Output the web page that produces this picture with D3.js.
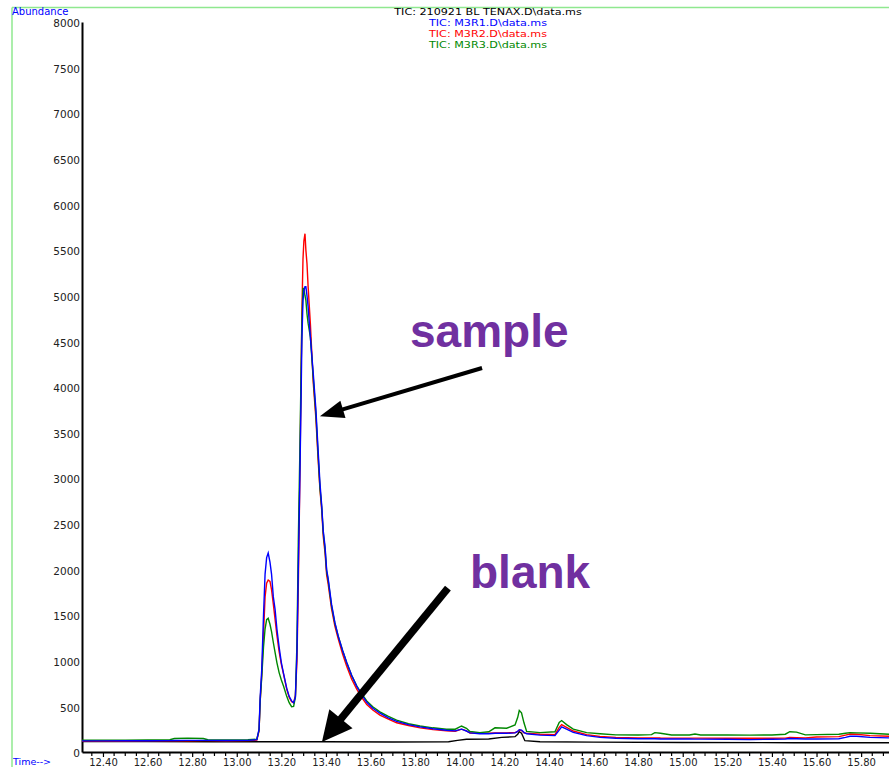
<!DOCTYPE html>
<html>
<head>
<meta charset="utf-8">
<script src="https://cdn.jsdelivr.net/npm/d3@7"></script>
<style>
  body { margin: 0; background: #fff; }
  svg { display: block; font-family: "DejaVu Sans", sans-serif; }
</style>
</head>
<body>
<svg id="chart" width="889" height="767"></svg>
<script>
// Retention time (min) shared by the three sample runs
const times = [
  12.306, 12.40, 12.50, 12.60, 12.70, 12.72, 12.78, 12.85, 12.87, 12.95, 13.05, 13.09,
  13.10, 13.105, 13.112, 13.12, 13.127, 13.134, 13.141, 13.149, 13.156, 13.164, 13.172, 13.18,
  13.19, 13.20, 13.21, 13.224, 13.235, 13.246, 13.255, 13.263, 13.27, 13.276, 13.283, 13.288,
  13.292, 13.297, 13.301, 13.306, 13.31, 13.315, 13.32, 13.33, 13.343, 13.355, 13.365, 13.373,
  13.381, 13.388, 13.396, 13.403, 13.41, 13.425, 13.44, 13.455, 13.475, 13.493, 13.515, 13.538,
  13.56, 13.583, 13.61, 13.642, 13.68, 13.717, 13.77, 13.822, 13.88, 13.94, 13.98, 14.008,
  14.03, 14.046, 14.09, 14.13, 14.158, 14.21, 14.248, 14.26, 14.267, 14.277, 14.288, 14.30,
  14.36, 14.427, 14.446, 14.457, 14.479, 14.509, 14.569, 14.629, 14.70, 14.80, 14.86, 14.875,
  14.90, 14.95, 15.03, 15.055, 15.08, 15.20, 15.30, 15.40, 15.46, 15.48, 15.51, 15.55,
  15.60, 15.70, 15.73, 15.75, 15.78, 15.84, 15.925
];

// TIC: M3R1.D\data.ms
const m3r1 = [
  122, 122, 123, 124, 125, 126, 127, 127, 127, 126, 127, 135,
  250, 600, 900, 1500, 1950, 2130, 2180, 2080, 1950, 1700, 1560, 1350,
  1150, 980, 860, 700, 610, 560, 540, 600, 1100, 2000, 3000, 3800,
  4500, 4950, 5050, 5100, 5100, 5000, 4880, 4550, 4150, 3750, 3300, 2950,
  2700, 2420, 2250, 2000, 1900, 1620, 1420, 1270, 1110, 980, 840, 720,
  630, 545, 480, 425, 375, 335, 300, 275, 255, 238, 232, 250,
  230, 210, 200, 200, 205, 205, 210, 225, 245, 240, 215, 200,
  185, 180, 240, 275, 250, 215, 180, 160, 150, 145, 145, 145,
  143, 142, 142, 141, 141, 140, 136, 140, 142, 148, 146, 142,
  143, 145, 160, 172, 172, 160, 155
];

// TIC: M3R2.D\data.ms
const m3r2 = [
  120, 120, 121, 122, 122, 123, 124, 125, 125, 124, 125, 130,
  230, 550, 850, 1300, 1700, 1850, 1885, 1870, 1780, 1620, 1450, 1280,
  1100, 960, 850, 690, 600, 550, 540, 620, 1000, 1800, 3000, 4000,
  4800, 5400, 5600, 5680, 5500, 5350, 5100, 4700, 4050, 3650, 3200, 2880,
  2650, 2360, 2180, 1940, 1840, 1570, 1380, 1240, 1070, 940, 800, 690,
  600, 520, 460, 405, 360, 320, 290, 265, 245, 232, 228, 250,
  232, 208, 205, 205, 208, 210, 212, 225, 240, 235, 210, 205,
  195, 190, 270, 300, 270, 230, 190, 170, 160, 155, 155, 155,
  153, 152, 152, 152, 152, 150, 150, 150, 152, 160, 158, 155,
  165, 168, 185, 197, 195, 180, 172
];

// TIC: M3R3.D\data.ms
const m3r3 = [
  128, 130, 130, 132, 135, 148, 152, 148, 134, 132, 134, 140,
  240, 560, 820, 1150, 1350, 1450, 1465, 1400, 1320, 1200, 1090, 980,
  870, 790, 720, 610, 540, 497, 500, 600, 1200, 2300, 3300, 4100,
  4700, 5080, 5080, 5000, 4950, 4800, 4700, 4550, 4100, 3700, 3250, 2900,
  2680, 2400, 2220, 1980, 1880, 1600, 1410, 1270, 1110, 980, 840, 725,
  640, 560, 495, 440, 390, 350, 310, 285, 265, 250, 250, 285,
  260, 225, 212, 222, 265, 260, 296, 380, 455, 430, 320, 225,
  212, 222, 325, 345, 300, 250, 212, 200, 188, 186, 190, 212,
  205, 186, 186, 197, 186, 186, 185, 186, 195, 222, 218, 188,
  190, 194, 205, 212, 210, 205, 194
];

// TIC: 210921 BL TENAX.D\data.ms (blank)
const blankTimes = [
  12.306, 12.60, 12.90, 13.10, 13.40, 13.70, 13.95, 13.99, 14.03, 14.13, 14.188,
  14.248, 14.26, 14.267, 14.277, 14.292, 14.36, 14.60, 15.00, 15.50, 15.925
];
const blankValues = [
  115, 115, 113, 112, 112, 110, 112, 128, 140, 142, 160,
  168, 195, 222, 205, 124, 112, 108, 104, 102, 102
];

const yTicks = [0, 500, 1000, 1500, 2000, 2500, 3000, 3500, 4000, 4500, 5000, 5500, 6000, 6500, 7000, 7500, 8000];
const xTicks = [12.4, 12.6, 12.8, 13.0, 13.2, 13.4, 13.6, 13.8, 14.0, 14.2, 14.4, 14.6, 14.8, 15.0, 15.2, 15.4, 15.6, 15.8];

const titles = [
  { text: "TIC: 210921 BL TENAX.D\\data.ms", color: "#000000" },
  { text: "TIC: M3R1.D\\data.ms", color: "#0000ff" },
  { text: "TIC: M3R2.D\\data.ms", color: "#ff0000" },
  { text: "TIC: M3R3.D\\data.ms", color: "#008800" }
];

// arrows in data units: [time, abundance]
const arrows = [
  { from: [14.10, 4208], to: [13.373, 3680], width: 4, head: 24, half: 9 },
  { from: [13.947, 1797], to: [13.382, 110], width: 7.5, head: 30, half: 15 }
];

const svg = d3.select("#chart");

const x = d3.scaleLinear().domain([12.306, 15.925]).range([82, 889]);
const y = d3.scaleLinear().domain([0, 8000]).range([752, 22]);

// green frame
svg.append("line").attr("x1", 12).attr("y1", 7.5).attr("x2", 889).attr("y2", 7.5)
  .attr("stroke", "#8fe88f").attr("stroke-width", 1.5);
svg.append("line").attr("x1", 12).attr("y1", 7.5).attr("x2", 12).attr("y2", 767)
  .attr("stroke", "#8fe88f").attr("stroke-width", 1.5);

svg.append("text").attr("x", 12).attr("y", 14.8)
  .attr("fill", "#0000ff").attr("font-size", 10).text("Abundance");
svg.append("text").attr("x", 13).attr("y", 765)
  .attr("fill", "#0000ff").attr("font-size", 9.5).text("Time-->");

// run titles, slightly widened like the instrument's font
const titleGroup = svg.append("g").attr("transform", "translate(488,0) scale(1.2,1)");
titleGroup.selectAll(".title")
  .data(titles)
  .enter()
  .append("text")
  .attr("class", "title")
  .attr("x", 0)
  .attr("y", (d, i) => 15.5 + i * 10.7)
  .attr("text-anchor", "middle")
  .attr("font-size", 9.3)
  .attr("fill", d => d.color)
  .text(d => d.text);

// y axis
const yAxis = svg.append("g")
  .attr("transform", "translate(82,0)")
  .call(d3.axisLeft(y).tickValues(yTicks).tickFormat(d3.format("d"))
    .tickSize(0).tickSizeOuter(0).tickPadding(2));
yAxis.select(".domain").attr("stroke", "#000").attr("stroke-width", 2);
yAxis.selectAll("text").attr("font-size", 10.5).attr("fill", "#222")
  .attr("dy", "0.45em")
  .attr("font-family", "DejaVu Sans, sans-serif");

// x axis
const xAxis = svg.append("g")
  .attr("transform", "translate(0,752)")
  .call(d3.axisBottom(x).tickValues(xTicks).tickFormat(d3.format(".2f"))
    .tickSize(5).tickSizeOuter(0).tickPadding(2));
xAxis.select(".domain").attr("stroke", "#000").attr("stroke-width", 2);
xAxis.selectAll(".tick line").attr("stroke", "#000").attr("stroke-width", 1.2);
xAxis.selectAll("text").attr("font-size", 10).attr("fill", "#222")
  .attr("font-family", "DejaVu Sans, sans-serif");

// minor ticks every 0.05 min
xAxis.selectAll(".minor")
  .data(d3.range(12.35, 15.93, 0.05).filter(t => Math.abs(t * 5 - Math.round(t * 5)) > 0.01))
  .enter()
  .append("line")
  .attr("class", "minor")
  .attr("x1", d => x(d)).attr("x2", d => x(d))
  .attr("y1", 0).attr("y2", 4)
  .attr("stroke", "#000").attr("stroke-width", 1.2);

// traces
const line = d3.line().x(d => x(d[0])).y(d => y(d[1]));

const series = [
  { pts: blankTimes.map((t, i) => [t, blankValues[i]]), color: "#000000" },
  { pts: times.map((t, i) => [t, m3r2[i]]), color: "#ff0000" },
  { pts: times.map((t, i) => [t, m3r3[i]]), color: "#008800" },
  { pts: times.map((t, i) => [t, m3r1[i]]), color: "#0000ff" }
];

svg.selectAll(".trace")
  .data(series)
  .enter()
  .append("path")
  .attr("class", "trace")
  .attr("fill", "none")
  .attr("stroke", d => d.color)
  .attr("stroke-width", 1.4)
  .attr("d", d => line(d.pts));

// annotations
svg.append("text").attr("x", 410).attr("y", 347)
  .attr("font-family", "Liberation Sans, Arial, sans-serif")
  .attr("font-weight", "bold").attr("font-size", 46)
  .attr("fill", "#7030a0").text("sample");
svg.append("text").attr("x", 470).attr("y", 588)
  .attr("font-family", "Liberation Sans, Arial, sans-serif")
  .attr("font-weight", "bold").attr("font-size", 46)
  .attr("fill", "#7030a0").text("blank");

arrows.forEach(a => {
  const x1 = x(a.from[0]), y1 = y(a.from[1]);
  const x2 = x(a.to[0]), y2 = y(a.to[1]);
  const len = Math.hypot(x2 - x1, y2 - y1);
  const ux = (x2 - x1) / len, uy = (y2 - y1) / len;
  const bx = x2 - ux * a.head, by = y2 - uy * a.head;
  svg.append("line")
    .attr("x1", x1).attr("y1", y1)
    .attr("x2", bx + ux * 2).attr("y2", by + uy * 2)
    .attr("stroke", "#000").attr("stroke-width", a.width);
  svg.append("polygon")
    .attr("points", [[x2, y2], [bx - uy * a.half, by + ux * a.half], [bx + uy * a.half, by - ux * a.half]]
      .map(p => p.join(",")).join(" "))
    .attr("fill", "#000");
});
</script>
</body>
</html>
